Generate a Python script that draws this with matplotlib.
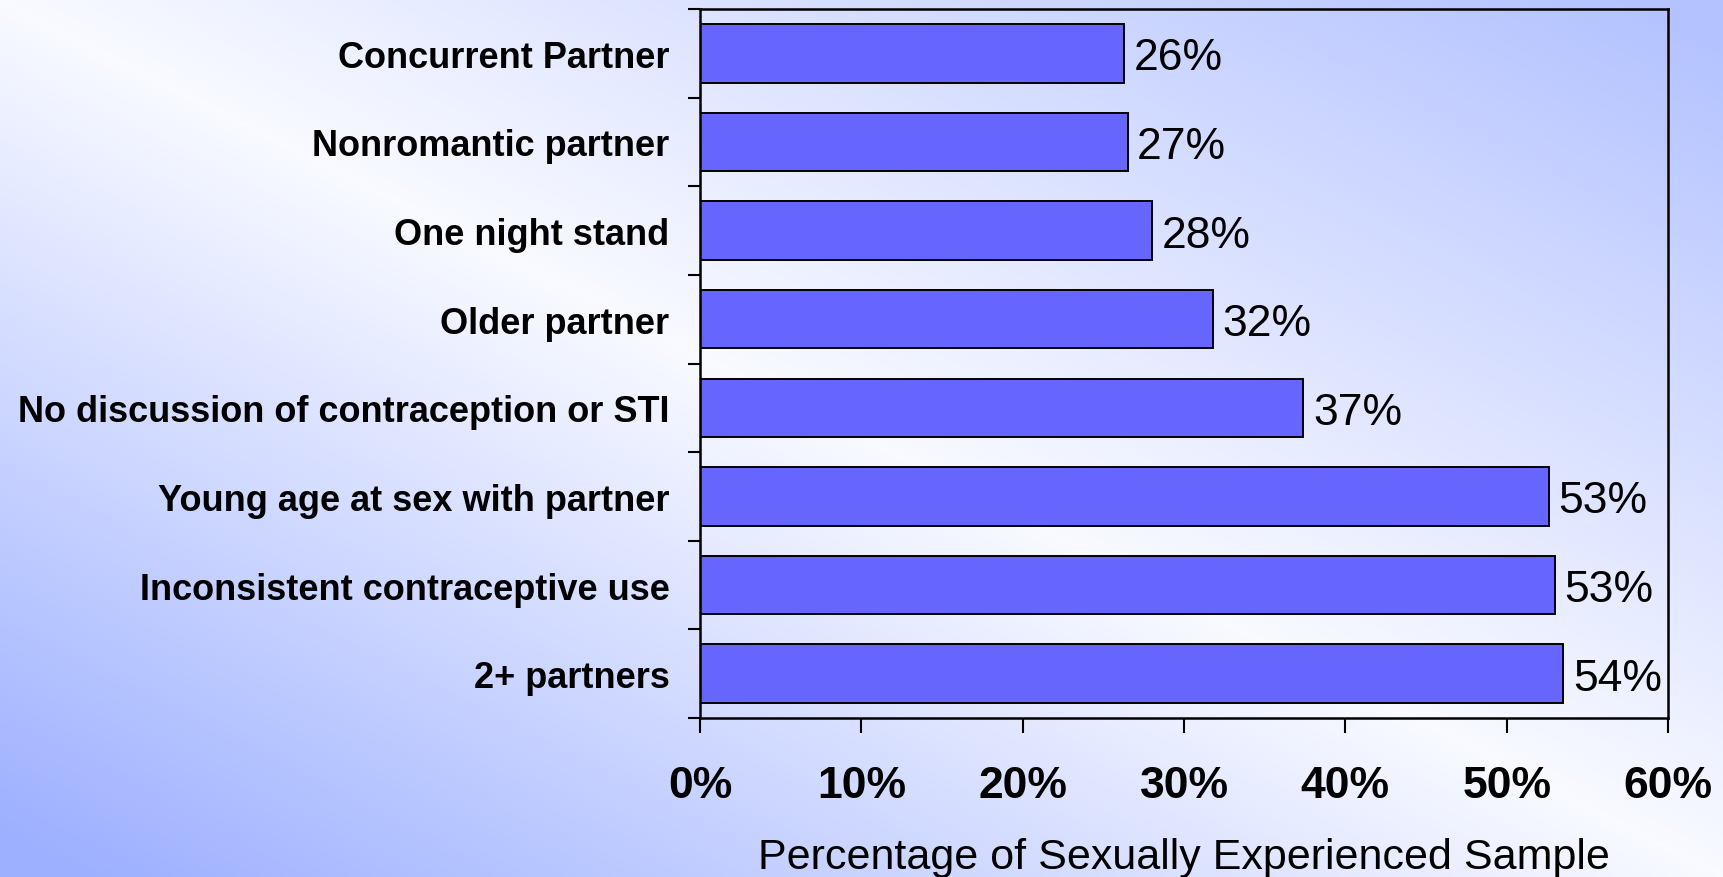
import numpy as np
import matplotlib
matplotlib.use("Agg")
import matplotlib.pyplot as plt
from matplotlib.ticker import FixedLocator, PercentFormatter

plt.rcParams['font.family'] = ['Liberation Sans', 'DejaVu Sans']

# data, top to bottom as in the picture
categories = ['Concurrent Partner', 'Nonromantic partner', 'One night stand',
              'Older partner', 'No discussion of contraception or STI',
              'Young age at sex with partner', 'Inconsistent contraceptive use',
              '2+ partners']
values = [26.3, 26.5, 28.0, 31.8, 37.4, 52.6, 53.0, 53.5]
value_labels = ['26%', '27%', '28%', '32%', '37%', '53%', '53%', '54%']
xticks = [0, 10, 20, 30, 40, 50, 60]
xlabel = 'Percentage of Sexually Experienced Sample'

fig = plt.figure(figsize=(17.24, 8.78), dpi=100)

# diagonal blue/white gradient background
bg = fig.add_axes([0, 0, 1, 1], zorder=-1)
h, w = 200, 400
u = np.linspace(0, 1, w)[None, :]
v = np.linspace(0, 1, h)[:, None]
t = np.clip(np.abs(v - u) * 1.05, 0, 1)
t = np.where(v > u, t, t * 0.75)
t = t + 0.06 * (1 - t)
white = np.array([1.0, 1.0, 1.0])
blue = np.array([157, 176, 255]) / 255
img = white[None, None, :] * (1 - t[..., None]) + blue[None, None, :] * t[..., None]
bg.imshow(img, aspect='auto', extent=[0, 1, 0, 1], origin='upper')
bg.axis('off')

ax = fig.add_axes([700 / 1724, 1 - 719 / 878, 968 / 1724, 709 / 878])
ax.set_facecolor('none')

y = np.arange(len(categories))
ax.barh(y, values, height=0.66, color='#6666ff', edgecolor='black', linewidth=1.4)
for yi, val, lab in zip(y, values, value_labels):
    ax.text(val + 0.6, yi, lab, va='center_baseline', ha='left', fontsize=32)

ax.set_ylim(len(categories) - 0.5, -0.5)
ax.set_xlim(0, 60)
ax.set_yticks(y)
ax.set_yticklabels(categories, fontsize=26, fontweight='bold')
ax.yaxis.set_minor_locator(FixedLocator(np.arange(-0.5, len(categories), 1)))
ax.tick_params(axis='y', which='major', length=0, pad=22)
ax.tick_params(axis='y', which='minor', length=9, width=1.5, direction='out')

ax.set_xticks(xticks)
ax.xaxis.set_major_formatter(PercentFormatter(decimals=0))
ax.tick_params(axis='x', which='major', length=11, width=1.5, direction='out',
               pad=23, labelsize=32)
for lbl in ax.get_xticklabels():
    lbl.set_fontweight('bold')
ax.set_xlabel(xlabel, fontsize=31, labelpad=22)

for s in ax.spines.values():
    s.set_linewidth(1.8)
    s.set_color('black')

fig.savefig('out.png', dpi=100)
